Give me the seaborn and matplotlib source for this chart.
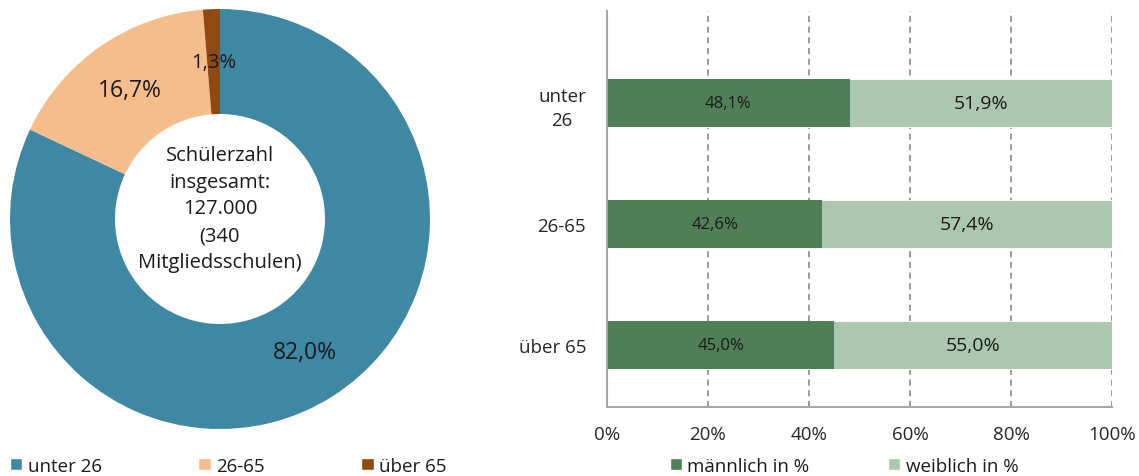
import pandas as pd
import matplotlib
matplotlib.use("Agg")
import matplotlib.pyplot as plt
import seaborn as sns
from matplotlib.patches import Patch


# Data
age_groups = ["unter 26", "26-65", "über 65"]
age_shares = [82.0, 16.7, 1.3]
age_colors = ["#3F88A3", "#F5BD8C", "#8E4A10"]

bar_labels = ["unter\n26", "26-65", "über 65"]
male_pct = [48.1, 42.6, 45.0]
female_pct = [51.9, 57.4, 55.0]
gender_names = ["männlich in %", "weiblich in %"]
gender_colors = ["#507F56", "#ABC8AE"]

x_ticks = [0, 20, 40, 60, 80, 100]
center_text = "Schülerzahl\ninsgesamt:\n127.000\n(340\nMitgliedsschulen)"


sns.set_style("white")
plt.rcParams["font.family"] = ["Open Sans", "DejaVu Sans"]
plt.rcParams["text.color"] = "#1a1a1a"


def de_pct(v):
    return f"{v:.1f}%".replace(".", ",")


fig = plt.figure(figsize=(11.39, 4.77), dpi=100)


# Donut chart
ax_pie = fig.add_axes([10 / 1139, 47 / 477, 420 / 1139, 420 / 477])

wedges, texts, autotexts = ax_pie.pie(
    age_shares,
    colors=age_colors,
    startangle=90,
    counterclock=False,
    radius=1.0,
    autopct=de_pct,
    pctdistance=0.75,
    wedgeprops=dict(width=0.5, edgecolor="none"),
    textprops=dict(fontsize=16.5)
)
autotexts[2].set_fontsize(14.5)
ax_pie.set_xlim(-1, 1)
ax_pie.set_ylim(-1, 1)
ax_pie.set_aspect("equal")

ax_pie.text(
    0, 0.05,
    center_text,
    ha="center",
    va="center",
    fontsize=14.5,
    linespacing=1.45
)

pie_handles = [
    Patch(facecolor=c, label=l)
    for c, l in zip(age_colors, age_groups)
]

fig.legend(
    handles=pie_handles,
    loc="center left",
    bbox_to_anchor=(-0.006, 0.022),
    ncol=3,
    frameon=False,
    fontsize=13.5,
    handlelength=0.65,
    handleheight=0.65,
    handletextpad=0.3,
    columnspacing=5.15
)


# Stacked bar chart
ax_bar = fig.add_axes([607 / 1139, 69 / 477, 505 / 1139, 396 / 477])

df = pd.DataFrame({
    "group": bar_labels,
    "male": male_pct,
    "female": female_pct
})
df["total"] = df["male"] + df["female"]

sns.barplot(
    data=df,
    x="total",
    y="group",
    orient="h",
    color=gender_colors[1],
    width=0.4,
    saturation=1,
    edgecolor="white",
    linewidth=0.6,
    ax=ax_bar
)

sns.barplot(
    data=df,
    x="male",
    y="group",
    orient="h",
    color=gender_colors[0],
    width=0.4,
    saturation=1,
    edgecolor="none",
    ax=ax_bar
)

# Segment labels
for i, (m, f) in enumerate(zip(male_pct, female_pct)):
    ax_bar.text(m / 2, i, de_pct(m), ha="center", va="center", fontsize=12)
    ax_bar.text(m + f / 2, i, de_pct(f), ha="center", va="center", fontsize=14)

ax_bar.set_xlim(0, 100)
ax_bar.set_ylim(2.51, -0.76)
ax_bar.set_xticks(x_ticks)
ax_bar.set_xticklabels([f"{t}%" for t in x_ticks])
ax_bar.set_xlabel("")
ax_bar.set_ylabel("")

ax_bar.grid(axis="x", color="#7f7f7f", linestyle=(0, (4, 3)), linewidth=1.1)
ax_bar.set_axisbelow(True)

for side in ["top", "right"]:
    ax_bar.spines[side].set_visible(False)
for side in ["left", "bottom"]:
    ax_bar.spines[side].set_color("#a6a6a6")
    ax_bar.spines[side].set_linewidth(1.5)

ax_bar.tick_params(axis="x", length=6, width=1.5, color="#a6a6a6",
                   labelsize=13.5, pad=10, direction="inout")
ax_bar.tick_params(axis="y", length=0, labelsize=13.5, pad=15)
for lbl in ax_bar.get_yticklabels():
    lbl.set_multialignment("center")
    lbl.set_linespacing(1.45)

bar_handles = [
    Patch(facecolor=c, label=l)
    for c, l in zip(gender_colors, gender_names)
]

fig.legend(
    handles=bar_handles,
    loc="center left",
    bbox_to_anchor=(0.573, 0.022),
    ncol=2,
    frameon=False,
    fontsize=13.5,
    handlelength=0.65,
    handleheight=0.65,
    handletextpad=0.3,
    columnspacing=4.2
)

fig.savefig("out.png", dpi=100)
